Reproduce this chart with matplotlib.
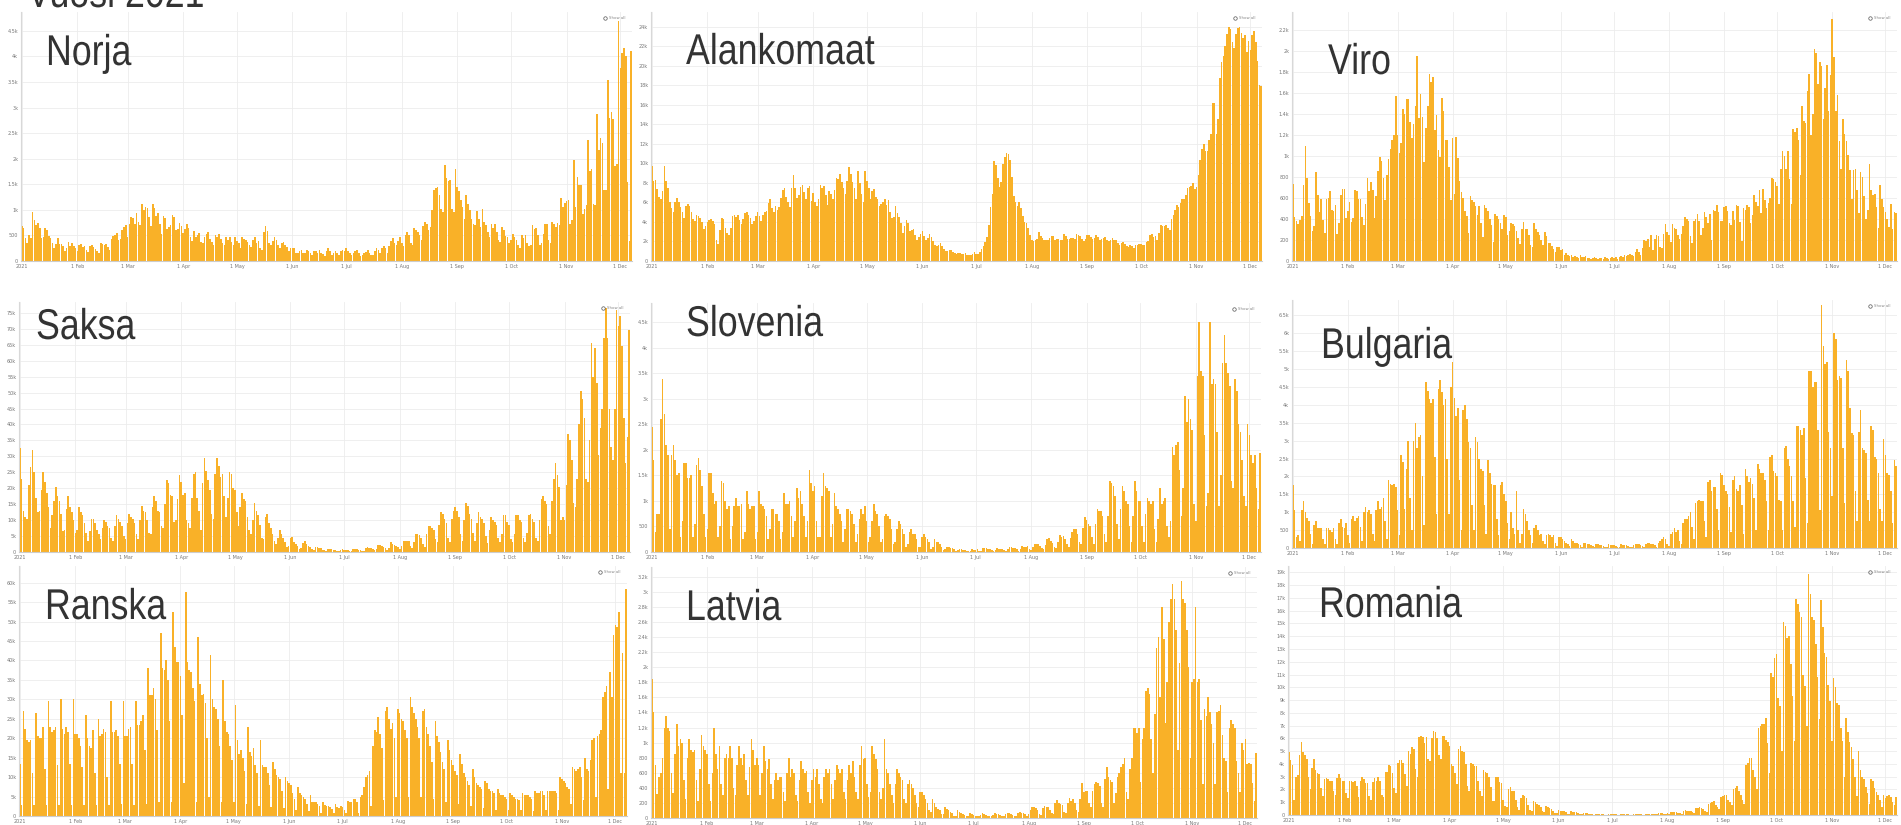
import matplotlib
matplotlib.use('Agg')
import matplotlib.pyplot as plt
import matplotlib.patheffects as pe
from matplotlib.transforms import Affine2D
import numpy as np

W, H = 1901, 825
BAR = '#F9B128'
GRID = '#ececec'
TXT = '#333333'
BIG_FONT = ['Liberation Sans', 'DejaVu Sans']

month_starts = [0, 31, 59, 90, 120, 151, 181, 212, 243, 273, 304, 334]
month_labels = ['2021', '1 Feb', '1 Mar', '1 Apr', '1 May', '1 Jun',
                '1 Jul', '1 Aug', '1 Sep', '1 Oct', '1 Nov', '1 Dec']

# daily new cases, thousands, 1 Jan - 7 Dec 2021 (one row per month)
norja = [
    [.68, .65, .45, .35, .50, .45, .95, .80, .70, .74, .65, .45, .47, .65, .60, .48, .45, .35, .25, .33, .45, .33, .33, .30, .20, .25, .37, .30, .35, .30, .25],
    [.20, .32, .33, .27, .30, .21, .18, .30, .31, .27, .23, .20, .16, .35, .33, .32, .34, .28, .22, .44, .48, .50, .55, .42, .43, .60, .66, .70],
    [.46, .72, .86, .85, .72, .93, .76, .70, 1.11, 1.00, 1.05, 1.03, .86, .68, 1.11, 1.04, .88, .93, .73, .52, .88, .85, .63, .66, .70, .90, .86, .60, .62, .75, .69],
    [.55, .62, .72, .65, .46, .39, .59, .46, .50, .54, .38, .35, .46, .53, .56, .44, .38, .32, .51, .46, .52, .43, .36, .31, .47, .42, .46, .38, .32, .47],
    [.40, .36, .26, .47, .44, .41, .37, .32, .27, .42, .46, .35, .40, .26, .21, .56, .69, .58, .35, .31, .40, .46, .42, .31, .26, .36, .37, .31, .27, .20, .26],
    [.25, .26, .15, .16, .20, .21, .15, .16, .21, .19, .16, .11, .20, .19, .15, .21, .16, .13, .10, .20, .25, .20, .11, .16, .20, .16, .11, .20, .22, .20],
    [.25, .20, .15, .11, .16, .20, .21, .15, .10, .12, .16, .17, .21, .15, .12, .11, .20, .25, .21, .15, .25, .30, .26, .16, .30, .39, .45, .36, .31, .40, .46],
    [.36, .30, .50, .56, .51, .36, .31, .65, .61, .56, .51, .42, .69, .76, .72, .60, .66, 1.00, 1.39, 1.42, 1.44, 1.30, 1.01, .95, 1.87, 1.62, 1.56, 1.58, 1.01, .96, 1.79],
    [1.44, 1.37, 1.20, 1.05, .82, 1.30, 1.12, 1.00, .82, .72, .70, .97, .82, .66, 1.02, .76, .70, .56, .46, .72, .64, .72, .57, .42, .38, .67, .60, .48, .47, .36],
    [.42, .52, .46, .41, .32, .26, .50, .45, .50, .36, .30, .31, .71, .62, .65, .50, .32, .35, .52, .72, .73, .41, .36, .76, .72, .67, .75, .70, 1.23, 1.05, 1.13],
    [1.18, 1.20, .72, .81, 1.97, 1.06, 1.64, 1.49, 1.48, .92, 1.01, 1.10, 2.37, 1.77, 1.79, 1.11, 1.09, 2.87, 2.17, 2.40, 2.31, 1.39, 1.38, 3.54, 2.80, 2.92, 2.77, 1.85, 1.90, 4.70],
    [3.78, 4.06, 4.16, 4.00, 1.54, .39, 4.11],
]

alankomaat = [
    [9.7, 8.2, 8.3, 7.4, 6.6, 6.4, 7.2, 9.7, 8.2, 7.5, 6.0, 5.4, 5.0, 6.0, 6.5, 6.0, 5.5, 5.0, 4.4, 5.6, 5.8, 5.6, 5.0, 4.3, 4.1, 4.7, 4.6, 4.4, 4.0, 3.3, 3.6],
    [4.0, 4.2, 4.3, 4.1, 3.8, 2.2, 1.7, 3.2, 4.4, 4.3, 3.4, 2.9, 2.7, 3.4, 4.6, 4.7, 4.5, 4.7, 4.2, 3.8, 4.3, 4.9, 5.0, 4.7, 4.4, 3.8, 4.1, 4.6],
    [5.0, 4.6, 4.1, 4.7, 5.0, 5.1, 5.9, 6.3, 5.4, 5.0, 5.6, 5.2, 5.5, 6.5, 7.3, 7.5, 6.6, 6.0, 5.5, 7.5, 8.8, 7.5, 6.5, 6.8, 7.6, 7.8, 7.1, 6.3, 7.5, 7.7, 6.1],
    [7.0, 6.0, 5.6, 6.3, 7.8, 7.5, 7.7, 6.8, 5.7, 7.2, 6.9, 6.3, 7.3, 8.5, 8.4, 8.9, 8.1, 7.5, 6.9, 8.2, 9.6, 8.9, 8.1, 7.5, 6.4, 9.2, 8.0, 6.9, 6.0, 9.2],
    [8.2, 7.5, 6.4, 7.2, 7.4, 6.6, 6.4, 5.6, 5.8, 6.0, 6.4, 5.7, 6.2, 5.0, 4.4, 4.5, 5.6, 4.9, 4.5, 3.9, 2.9, 3.6, 4.2, 3.9, 3.1, 3.2, 3.3, 2.7, 2.2, 2.5, 2.8],
    [3.1, 2.6, 2.1, 2.4, 2.8, 2.5, 2.0, 1.6, 1.5, 1.6, 1.8, 1.5, 1.2, 1.0, 1.0, 1.1, 1.1, 0.9, 0.8, 0.7, 0.8, 0.8, 0.7, 0.7, 0.8, 0.6, 0.6, 0.6, 0.7, 0.9],
    [0.7, 0.7, 0.9, 1.2, 1.5, 1.9, 2.5, 3.7, 5.5, 6.9, 10.2, 9.8, 8.5, 7.6, 8.1, 9.9, 10.6, 11.1, 11.0, 10.3, 8.6, 6.7, 6.0, 5.6, 6.0, 5.4, 4.6, 4.0, 3.9, 3.4, 2.7],
    [2.2, 2.0, 2.2, 2.3, 3.0, 2.6, 2.4, 2.1, 2.1, 2.2, 2.4, 2.6, 2.6, 2.2, 2.3, 2.3, 2.2, 2.2, 2.8, 2.6, 2.3, 2.3, 2.4, 2.4, 2.3, 2.8, 2.7, 2.6, 2.3, 2.0, 2.3],
    [2.7, 2.7, 2.5, 2.3, 2.4, 2.7, 2.5, 2.2, 2.3, 2.4, 2.5, 2.1, 2.0, 2.2, 2.4, 2.2, 2.2, 1.8, 1.6, 1.8, 1.9, 1.7, 1.5, 1.4, 1.6, 1.5, 1.3, 1.6, 1.6, 1.7],
    [1.7, 1.6, 1.6, 1.9, 2.0, 2.7, 2.8, 2.5, 2.6, 2.2, 2.9, 3.7, 3.6, 3.6, 3.7, 3.4, 3.2, 4.3, 4.7, 5.2, 5.7, 5.5, 5.9, 6.4, 6.3, 6.8, 7.5, 7.6, 7.7, 8.0, 7.4],
    [7.6, 8.8, 10.3, 11.5, 12.0, 11.3, 11.3, 12.4, 13.0, 16.2, 16.2, 13.0, 14.5, 18.7, 20.4, 21.0, 22.0, 23.2, 24.0, 23.8, 22.4, 21.8, 23.2, 23.9, 24.0, 23.3, 22.8, 23.1, 21.4, 22.5],
    [21.6, 23.1, 23.6, 22.4, 20.5, 18.0, 17.9],
]

viro = [
    [.73, .42, .38, .35, .39, .43, .72, 1.09, .79, .55, .43, .29, .33, .85, .63, .47, .59, .39, .27, .59, .60, .67, .49, .48, .53, .26, .36, .63, .69, .69, .41],
    [.48, .56, .37, .41, .68, .67, .59, .59, .42, .34, .54, .79, .67, .75, .68, .41, .62, .86, .99, .95, .79, .58, .82, .97, 1.07, 1.15, 1.20, 1.57],
    [1.20, 1.03, 1.12, 1.45, 1.40, 1.54, 1.54, 1.32, 1.17, 1.30, 1.48, 1.95, 1.36, 1.59, 1.37, .94, 1.27, 1.48, 1.78, 1.70, 1.75, 1.25, 1.39, 1.06, .99, 1.55, 1.43, 1.15, 1.15, .89, .58],
    [1.17, .64, 1.18, .98, .76, .66, .60, .48, .43, .27, .62, .58, .56, .52, .44, .52, .36, .23, .53, .50, .48, .40, .34, .18, .45, .43, .40, .36, .30, .44],
    [.42, .25, .29, .36, .35, .33, .29, .22, .16, .30, .37, .30, .30, .25, .15, .13, .36, .30, .28, .25, .20, .15, .28, .24, .17, .17, .14, .11, .09, .13, .13],
    [.10, .11, .06, .08, .06, .05, .06, .04, .05, .04, .03, .06, .04, .04, .05, .03, .03, .02, .03, .04, .03, .02, .03, .03, .02, .04, .03, .02, .03, .04],
    [.03, .04, .02, .04, .05, .04, .06, .05, .06, .07, .06, .05, .09, .11, .09, .06, .12, .20, .19, .21, .13, .25, .10, .21, .25, .24, .13, .12, .26, .35, .28],
    [.25, .18, .35, .31, .30, .25, .21, .26, .33, .42, .40, .38, .24, .17, .38, .40, .45, .38, .25, .31, .47, .42, .36, .45, .20, .49, .48, .53, .47, .38, .38],
    [.51, .52, .48, .36, .34, .48, .39, .53, .52, .37, .19, .50, .49, .53, .51, .36, .44, .63, .56, .52, .68, .46, .69, .58, .50, .55, .60, .79, .78, .75],
    [.71, .54, .88, 1.05, 1.00, .88, 1.05, .78, .54, 1.26, 1.23, 1.27, 1.15, .82, 1.48, 1.33, 1.31, 1.62, 1.78, 1.20, 1.40, 2.02, 1.98, 1.68, 1.89, 1.86, 1.35, 1.65, 1.87, 1.43, 1.77],
    [2.30, 1.94, 1.43, 1.58, 1.14, .88, 1.35, 1.21, 1.14, 1.01, .87, .59, .87, .88, .68, .46, .85, .80, .62, .40, .49, .92, .68, .63, .64, .51, .31, .72, .59, .51],
    [.47, .40, .32, .54, .30, .47, .46],
]

saksa = [
    [32.5, 23, 13, 11, 10.5, 21, 26.5, 32, 25, 17, 12.5, 13, 19.5, 25, 22, 18.5, 14, 7.5, 11.5, 16, 20.5, 17.5, 16, 12, 6.5, 7, 13.5, 17.5, 14, 12.5, 10],
    [6, 7, 14, 12.5, 11.5, 9, 6, 3.5, 6.5, 10.5, 10.5, 9, 7, 5.5, 4, 7.5, 10, 9.5, 8, 7.5, 4.5, 3.5, 8, 11.5, 10.5, 9.5, 8, 5],
    [4, 9, 12, 11, 10.5, 9, 5.5, 4, 10, 14.5, 13, 12.5, 10, 6, 5.5, 14, 17.5, 16, 13, 12.5, 8, 7.5, 15, 22.5, 21.5, 18, 17.5, 9.5, 10, 16.5, 24],
    [22, 18, 18.5, 10, 9, 7.5, 17, 24.5, 25, 17, 13, 7, 21.5, 29.5, 25.5, 22.5, 19.5, 12, 10.5, 24.5, 29.5, 27, 23.5, 24.5, 17.5, 11, 17, 25, 24.5, 20],
    [19.5, 12.5, 8, 14, 18.5, 16.5, 16, 11, 7, 5.5, 10, 15.5, 13, 11.5, 8.5, 4.5, 4, 11, 12, 9, 7.5, 5.5, 3.5, 2.5, 4.5, 7, 5.5, 4.5, 3, 1.5, 1.8],
    [4.5, 4.8, 3, 2.5, 1.8, 1, 1.3, 2.8, 3.5, 2.5, 2, 1.5, .8, .7, 1.5, 1.6, 1.3, 1.1, .7, .5, .4, .8, .9, .8, .7, .5, .3, .3, .6, .8],
    [.7, .6, .5, .2, .4, .9, 1.0, .8, .7, .6, .3, .4, 1.4, 1.5, 1.4, 1.2, .8, .5, .9, 2.2, 2.1, 1.9, 1.6, 1.2, .6, 1.2, 3.0, 2.6, 2.2, 2.0, 1.5],
    [.8, 1.8, 3.6, 3.5, 3.3, 3.4, 1.9, 1.2, 3, 5.5, 5.6, 5.2, 4.5, 2.5, 1.5, 5.5, 8.3, 8, 7.5, 6.8, 4.2, 3, 8.5, 12.5, 11.8, 10.5, 9, 4.5, 3, 10.5, 13],
    [14, 13, 11, 5.5, 3.5, 10, 15.5, 14.5, 12, 10.5, 6, 3.5, 9, 12.5, 11, 10.5, 9, 5, 2.8, 7, 11, 10, 9.5, 8.5, 4.5, 3, 5.5, 11.5, 11.5, 9.5],
    [8.5, 4, 3, 5.5, 11.5, 11.5, 10, 9.5, 4.5, 3, 6, 11.5, 12, 10.5, 9.5, 4.5, 3.5, 10, 16.5, 17.5, 16, 15, 8, 5.5, 16, 23, 28, 24, 20.5, 10, 11],
    [10, 21, 37, 35, 29, 15.5, 14, 23, 40, 50.5, 48, 42, 23, 22, 35, 65.5, 55, 64, 53, 30.5, 39, 45, 67, 76.5, 67, 45, 33, 29, 45, 76],
    [71, 74, 64.5, 42, 28, 36, 69.5],
]

slovenia = [
    [2.45, 1.8, .4, .75, .75, 2.6, 3.4, 2.7, 2.1, 1.9, .45, 1.9, 2.1, 1.8, 1.5, 1.55, .3, .6, 1.75, 1.75, 1.45, 1.45, 1.5, .3, .55, 1.7, 1.85, 1.6, 1.3, .75, .3],
    [.45, 1.55, 1.55, 1.15, .95, 1.0, .3, .5, 1.4, 1.35, 1.0, .85, .9, .25, .5, .9, 1.05, .9, .9, .95, .25, .4, 1.2, .95, .85, .9, .9, .25],
    [.4, 1.2, .95, .9, .85, .7, .25, .45, .85, .85, .75, .75, .6, .25, .4, 1.15, .95, .95, 1.0, .7, .3, .6, 1.25, 1.05, 1.2, .95, .7, .3, .6, 1.6, 1.35],
    [1.2, 1.3, .6, .3, .3, 1.1, 1.55, 1.3, 1.25, 1.2, .3, .55, 1.15, .9, .85, .75, .6, .2, .45, .85, .85, .8, .75, .55, .2, .35, .65, .85, .75, .9],
    [.6, .2, .3, .6, .95, .8, .75, .5, .2, .25, .7, .75, .7, .65, .45, .15, .2, .45, .6, .55, .45, .35, .1, .15, .4, .45, .35, .35, .25, .1, .1],
    [.3, .35, .3, .25, .2, .05, .1, .25, .2, .2, .15, .1, .03, .05, .1, .1, .07, .07, .05, .02, .03, .06, .05, .04, .03, .02, .01, .02, .05, .04],
    [.04, .05, .01, .02, .07, .08, .08, .06, .05, .03, .01, .04, .07, .06, .06, .05, .03, .01, .05, .1, .09, .08, .07, .05, .02, .06, .12, .1, .1, .11, .06],
    [.03, .1, .16, .15, .15, .12, .07, .05, .13, .25, .27, .22, .18, .1, .07, .2, .33, .3, .32, .25, .15, .1, .27, .4, .45, .45, .35, .2, .15, .47, .68],
    [.62, .55, .5, .3, .15, .55, .85, .8, .8, .7, .35, .2, .7, 1.4, 1.35, 1.3, 1.1, .55, .25, .85, 1.3, 1.2, 1.0, .95, .5, .2, .7, 1.4, 1.2, 1.0],
    [1.0, .5, .2, .75, 1.05, 1.0, .95, 1.0, .45, .2, .65, 1.25, .95, 1.0, 1.05, .5, .3, .6, 2.05, 1.9, 2.1, 2.15, 1.6, .7, 1.25, 3.05, 2.55, 3.0, 2.6, 2.4, .95],
    [.6, 3.45, 4.5, 3.55, 3.45, 2.3, .9, 1.15, 4.5, 3.3, 3.4, 3.3, 2.35, .9, 1.5, 3.7, 4.25, 3.7, 3.5, 3.25, 1.4, 1.25, 3.4, 3.15, 2.5, 2.35, 1.8, 1.1, .9, 2.5],
    [2.3, 1.9, 1.75, 1.9, 1.25, .85, 1.95],
]

bulgaria = [
    [1.75, 1.05, .3, .35, .2, 1.05, 1.3, 1.0, .85, .75, .4, .1, .65, .75, .55, .55, .55, .25, .1, .55, .55, .5, .45, .55, .25, .12, .7, .8, .6, .55, .7],
    [.35, .15, .8, .9, .75, .85, .9, .6, .2, 1.0, 1.15, 1.0, 1.05, .95, .4, .2, 1.05, 1.3, 1.1, 1.15, 1.4, .75, .25, 1.9, 1.8, 1.75, 1.8, 1.7],
    [1.05, .35, 2.6, 2.4, 1.1, 2.2, 3.0, 1.4, .5, 3.0, 3.5, 2.8, 3.1, 3.15, 2.0, .65, 4.65, 4.4, 4.15, 4.05, 4.15, 2.55, .95, 4.45, 4.7, 4.35, 4.0, 4.15, 2.5, .95, 4.5],
    [5.2, 4.2, 3.7, 3.9, 1.9, .5, 3.85, 4.0, 3.6, 2.95, 2.8, 1.2, .5, 3.1, 2.95, 2.5, 2.2, 2.15, 1.2, .4, 2.45, 2.1, 1.8, 1.75, 1.75, .8, .35, 1.75, 1.85, 1.5],
    [1.3, .7, .25, 1.0, .55, .4, 1.6, .5, .15, .4, 1.1, .95, .75, .5, .35, .15, .55, .65, .5, .35, .4, .2, .1, .35, .4, .35, .3, .35, .15, .05, .3],
    [.3, .25, .2, .15, .1, .05, .25, .2, .15, .15, .1, .07, .04, .15, .15, .1, .1, .08, .05, .03, .1, .1, .08, .07, .06, .04, .02, .1, .09, .08],
    [.07, .06, .04, .02, .1, .09, .08, .07, .06, .04, .02, .08, .1, .1, .1, .08, .05, .03, .1, .15, .15, .12, .1, .08, .04, .15, .2, .25, .3, .25, .1],
    [.05, .4, .45, .55, .45, .5, .2, .1, .7, .8, .8, .9, 1.0, .6, .25, 1.25, 1.3, 1.35, 1.3, 1.3, .75, .3, 1.85, 1.9, 1.6, 1.7, 1.7, 1.1, .5, 2.1, 2.05],
    [1.75, 1.6, 1.5, 1.15, .45, 1.9, 2.0, 1.65, 1.6, 1.75, 1.2, .4, 2.2, 2.0, 1.85, 1.95, 1.8, 1.4, .5, 2.35, 2.2, 2.1, 2.1, 1.9, 1.3, .5, 2.55, 2.6, 2.15, 2.1],
    [2.0, 1.35, 1.3, .5, 2.8, 2.85, 2.5, 2.3, 2.0, 1.3, .6, 3.4, 3.4, 3.3, 3.15, 3.35, 1.95, .7, 4.95, 4.95, 4.5, 4.65, 4.65, 3.3, 1.05, 6.8, 5.65, 5.15, 5.2, 3.25, 2.8],
    [1.45, 6.0, 5.85, 4.7, 4.8, 4.75, 2.8, 1.25, 5.25, 4.95, 3.9, 3.2, 3.15, 1.6, .75, 3.25, 3.85, 2.8, 2.75, 2.65, 1.35, .75, 3.4, 3.3, 2.55, 2.5, 2.1, 1.1, .75, 3.05],
    [2.6, 2.1, 2.05, 1.6, .7, 2.45, 2.3],
]

# France: 1-2 Jan, then one row per week (Sun..Sat), last row 5-7 Dec
ranska = [
    [13.5, 2.8],
    [27, 22.5, 19.5, 19, 19.5, 11, 2.8], [26.5, 20.5, 20, 20, 23, 12, 2.9],
    [29.5, 23, 21.5, 22, 23, 13, 2.9], [30, 22.5, 21, 23, 21.5, 13.5, 2.9],
    [30, 21, 21, 20, 18, 12.5, 2.9], [26, 20, 18, 17.5, 22, 11, 2.8],
    [25, 20.5, 21, 22.5, 21.5, 10, 2.8], [29.5, 21.5, 21.5, 22, 20.5, 13.5, 3],
    [29.5, 20.5, 20.5, 22.5, 23, 13.5, 2.9], [29.5, 23.5, 23.5, 24.5, 26, 17, 3],
    [38, 31, 31, 33, 30, 22, 3.5], [47, 38, 37.5, 40, 35, 24.5, 3.5],
    [52.5, 43.5, 39.5, 39.5, 36, 26, 8.5], [57.5, 39.5, 37.5, 37, 33, 29.5, 3.5],
    [46, 34, 31, 31.5, 29, 20, 5], [41.5, 30, 28, 27.5, 25, 18, 3.5],
    [35, 24.5, 21.5, 21, 18, 14.5, 3.5], [28.5, 19.5, 16, 17, 15, 11.5, 3],
    [23, 16.5, 15.5, 17.5, 13, 11, 2.5], [19.5, 13, 12.5, 12.5, 11, 8, 2.2],
    [14, 12, 10.5, 10, 9.5, 6.5, 2], [10, 9, 8.5, 8, 6, 4.5, 1.5],
    [7.5, 6, 5.5, 5, 4.5, 3, 1.2], [5.5, 3.5, 3.5, 3.5, 3, 2.5, .8],
    [3.5, 2.8, 2.5, 2.6, 2.3, 1.8, .8], [3, 2.2, 2.1, 2.5, 2.2, 1.6, .7],
    [3.8, 3.5, 3.5, 4.5, 4.5, 3.5, .9], [5, 5.5, 7.5, 10, 10.5, 11.5, 2.5],
    [18, 22, 21.5, 25.5, 21, 17.5, 4], [27, 28, 25, 22.5, 24, 20, 5],
    [27.5, 26.5, 25, 24.5, 22, 20, 5], [30.5, 28, 26.5, 25, 23, 20, 5],
    [27, 27.5, 23, 21, 18, 14, 4.5], [24.5, 20.5, 19, 16.5, 14, 12, 3.5],
    [19.5, 17, 14.5, 13, 11.5, 10.5, 3], [16, 13.5, 11, 10, 9, 8, 2.5],
    [12, 10, 8.5, 8, 7.5, 7, 2], [9, 8.5, 7, 6.5, 6.5, 6, 1.5],
    [7, 6, 5.5, 5.5, 5, 4.5, 1.5], [6, 5.5, 5, 4.5, 4.5, 4, 1.5],
    [6, 5.5, 5.5, 5.5, 5, 4.5, 1.2], [6.5, 6, 6, 6.5, 6.5, 5.5, 1.5],
    [6.5, 6.5, 6.5, 6.5, 6.5, 6, 1.5], [10, 9.5, 9, 8.5, 7.5, 7, 3],
    [12.5, 12, 11.5, 12, 12.5, 10, 4], [15, 12, 11.5, 14.5, 19.5, 20, 5],
    [20.5, 21, 22, 30.5, 32, 33.5, 7], [37, 30.5, 46.5, 49, 48.5, 52.5, 11],
    [42, 11, 58.5],
]

latvia = [
    [1.85, 1.4, .7, .32, .55, .6, .8, 1.2, 1.35, 1.2, 1.15, .6, .33, .85, 1.25, .95, 1.05, 1.0, .5, .25, .8, 1.05, .9, .88, .9, .5, .22, .65, 1.1, .95, .9],
    [.85, .45, .22, .6, 1.2, .85, .65, .95, .45, .3, .8, .85, .8, .95, .8, .4, .3, .7, .95, .8, .7, .85, .5, .3, .68, 1.05, .9, .7],
    [.8, .7, .3, .6, .95, .75, .65, .78, .45, .25, .5, .6, .5, .55, .55, .35, .22, .6, .8, .55, .65, .6, .3, .22, .5, .75, .65, .6, .62, .35, .2],
    [.5, .65, .55, .65, .45, .25, .2, .55, .65, .6, .65, .45, .25, .5, .7, .65, .6, .65, .35, .25, .5, .7, .6, .75, .55, .35, .25, .7, .95, .78],
    [.8, .45, .28, .35, .95, .85, .78, .65, .35, .25, .4, 1.05, .65, .6, .45, .3, .2, .45, .65, .6, .55, .5, .25, .2, .45, .5, .45, .4, .3, .2, .15],
    [.35, .35, .3, .25, .2, .1, .08, .25, .2, .15, .12, .1, .05, .05, .15, .12, .1, .08, .06, .03, .03, .1, .08, .07, .05, .04, .02, .03, .06, .05],
    [.04, .03, .02, .02, .04, .06, .05, .04, .03, .02, .02, .04, .06, .05, .05, .04, .02, .02, .05, .07, .06, .05, .04, .02, .02, .06, .08, .07, .07, .05, .03],
    [.05, .1, .15, .14, .13, .1, .05, .04, .13, .16, .14, .15, .11, .06, .05, .2, .24, .2, .19, .17, .08, .07, .2, .26, .22, .25, .2, .1, .08, .25, .47],
    [.35, .36, .36, .2, .15, .36, .45, .48, .47, .43, .2, .15, .52, .68, .55, .5, .48, .2, .33, .55, .6, .68, .72, .8, .35, .25, .65, .8, 1.2, 1.2],
    [1.13, 1.2, .48, 1.05, 1.2, 1.68, 1.72, 1.65, 1.05, .6, 1.38, 2.25, 2.4, 1.6, 2.8, 2.38, 1.26, 1.8, 2.6, 2.9, 3.1, 2.9, 2.5, .9, 2.05, 3.15, 2.9, 2.85, 2.5, 2.0, .8],
    [1.8, 1.85, 2.8, 1.8, 1.85, 1.3, .45, 1.45, 1.35, 1.6, 1.4, 1.25, 1.0, .45, 1.4, 1.42, 1.5, 1.1, .8, .75, .35, 1.2, 1.3, 1.25, 1.2, .75, .6, .35, 1.0, .9],
    [1.05, .72, .73, .72, .47, .23, .86],
]

romania = [
    [4.9, 4.3, 3.9, 1.2, 3.0, 3.1, 4.7, 5.7, 4.9, 4.7, 4.4, 3.0, 2.0, 3.7, 4.4, 3.5, 3.3, 3.2, 2.1, 1.5, 2.8, 2.9, 2.8, 2.7, 2.7, 1.9, 1.6, 2.9, 3.2, 2.9, 2.7],
    [2.7, 1.7, 1.3, 2.7, 2.7, 2.6, 2.7, 2.3, 1.4, 2.7, 3.0, 2.8, 2.5, 2.5, 1.5, 1.2, 2.6, 2.9, 2.7, 3.0, 2.7, 1.6, 1.4, 3.4, 3.4, 3.9, 3.8, 3.3],
    [2.1, 1.7, 4.1, 4.3, 4.3, 4.1, 3.2, 2.3, 5.0, 4.8, 5.3, 5.2, 3.6, 3.0, 6.1, 6.2, 6.1, 5.6, 6.1, 4.4, 4.2, 6.0, 6.6, 6.5, 6.0, 4.7, 4.4, 6.2, 6.2, 5.9, 5.7],
    [5.4, 4.0, 3.8, 3.3, 2.4, 5.2, 5.4, 5.0, 4.9, 4.0, 2.3, 1.9, 4.1, 4.0, 3.8, 3.8, 2.7, 1.9, 1.5, 3.5, 3.4, 3.3, 3.0, 2.2, 1.1, 1.1, 3.0, 3.0, 2.6, 2.5],
    [1.2, .7, .6, 2.0, 2.2, 1.9, 1.9, 1.2, .6, .4, 1.3, 1.6, 1.5, 1.3, .8, .4, .3, 1.1, 1.0, .9, .8, .6, .3, .2, .7, .6, .55, .5, .3, .15, .12],
    [.4, .35, .3, .3, .2, .1, .08, .3, .25, .2, .2, .12, .06, .05, .15, .14, .12, .1, .06, .04, .03, .1, .09, .07, .06, .05, .03, .02, .07, .06],
    [.06, .05, .04, .02, .02, .06, .06, .06, .05, .04, .02, .02, .07, .07, .06, .06, .05, .03, .02, .09, .09, .09, .08, .06, .04, .04, .14, .13, .12, .11, .09],
    [.15, .1, .25, .25, .24, .22, .18, .13, .1, .35, .36, .35, .33, .28, .2, .14, .55, .58, .6, .56, .45, .35, .25, .9, .95, 1.0, 1.1, .8, .65, .45, 1.4],
    [1.5, 1.55, 1.6, 1.2, 1.0, .8, 2.0, 2.1, 2.25, 1.9, 1.6, 1.2, .9, 3.9, 4.1, 4.5, 4.5, 3.5, 3.0, 2.0, 6.8, 7.0, 7.1, 7.1, 7.6, 5.6, 3.3, 11.1, 10.8, 12.3],
    [12.6, 9.2, 8.5, 5.0, 15.1, 14.8, 13.9, 14.0, 11.8, 9.3, 5.8, 16.9, 16.5, 15.9, 15.5, 11.0, 10.1, 7.0, 18.9, 17.3, 15.5, 15.3, 13.4, 10.8, 7.5, 16.8, 14.7, 12.7, 12.4, 10.2, 8.9],
    [5.8, 10.7, 10.0, 8.8, 8.6, 6.8, 5.8, 3.0, 7.6, 6.5, 5.7, 5.3, 4.4, 3.0, 1.5, 5.0, 3.5, 3.0, 2.8, 2.2, 1.7, .9, 2.8, 2.7, 2.1, 1.8, 1.6, 1.2, .6, 1.6],
    [1.3, 1.5, 1.6, 1.4, 1.0, .8, 1.4],
]


class Squeeze(pe.AbstractPathEffect):
    """draw text glyphs narrower (the screenshot text is horizontally squeezed)"""

    def __init__(self, sx):
        super().__init__()
        self.sx = sx

    def draw_path(self, renderer, gc, tpath, affine, rgbFace=None):
        renderer.draw_path(gc, tpath, Affine2D().scale(self.sx, 1) + affine, rgbFace)


def fmt(v):
    if v == 0:
        return '0'
    if v < 1:
        return str(int(round(v * 1000)))
    return f'{v:g}k'


def panel(name, rows, box, ymax, ystep, lab):
    left, top, right, base = box
    ax = fig.add_axes([left / W, 1 - base / H, (right - left) / W, (base - top) / H])
    vals = np.concatenate([np.asarray(r, float) for r in rows])
    x = np.arange(len(vals))
    ax.bar(x, vals, width=0.9, color=BAR, linewidth=0, zorder=2)
    ax.set_xlim(-0.5, len(vals) - 0.5)
    ax.set_ylim(0, ymax)
    yt = np.arange(0, ymax, ystep)
    ax.set_yticks(yt)
    ax.set_yticklabels([fmt(round(v, 3)) for v in yt])
    ax.set_xticks(month_starts)
    ax.set_xticklabels(month_labels)
    ax.tick_params(labelsize=3.5, colors='#777777', length=0, pad=2)
    ax.grid(True, color=GRID, lw=0.6, zorder=0)
    for s in ['top', 'right']:
        ax.spines[s].set_visible(False)
    ax.spines['left'].set_color('#d8d8d8')
    ax.spines['bottom'].set_color('#cccccc')
    ax.spines['left'].set_linewidth(0.8)
    ax.spines['bottom'].set_linewidth(0.8)
    ax.set_axisbelow(True)
    # "Show all" button
    ax.plot([0.955], [0.975], marker='o', ms=2.5, mfc='none', mec='#555555',
            mew=0.5, transform=ax.transAxes, clip_on=False)
    ax.text(0.962, 0.975, 'Show all', fontsize=2.8, color='#888888',
            transform=ax.transAxes, va='center', ha='left')
    fig.text(lab[0] / W, 1 - lab[1] / H, name, fontsize=31, color=TXT,
             family=BIG_FONT, ha='left', va='baseline',
             path_effects=[Squeeze(0.83)])
    return ax


fig = plt.figure(figsize=(W / 100, H / 100), dpi=100)
fig.patch.set_facecolor('white')

panel('Norja', norja, (21, 12, 632, 261), 4.87, 0.5, (46, 65))
panel('Alankomaat', alankomaat, (651, 12, 1262, 261), 25.5, 2, (686, 64))
panel('Viro', viro, (1292, 12, 1897, 261), 2.37, 0.2, (1328, 74))
panel('Saksa', saksa, (19, 302, 630, 552), 78.4, 5, (36, 339))
panel('Slovenia', slovenia, (651, 303, 1261, 552), 4.88, 0.5, (686, 336))
panel('Bulgaria', bulgaria, (1292, 300, 1897, 548), 6.93, 0.5, (1321, 358))
panel('Ranska', ranska, (19, 566, 627, 816), 64.3, 5, (45, 619))
panel('Latvia', latvia, (651, 567, 1257, 818), 3.33, 0.2, (686, 620))
panel('Romania', romania, (1288, 566, 1897, 815), 19.5, 1, (1319, 617))

fig.text(27 / W, 1 - 7 / H, 'Vuosi 2021', fontsize=31, color=TXT,
         family=BIG_FONT, ha='left', va='baseline',
         path_effects=[Squeeze(0.83)])

fig.savefig('out.png', dpi=100, facecolor='white')
